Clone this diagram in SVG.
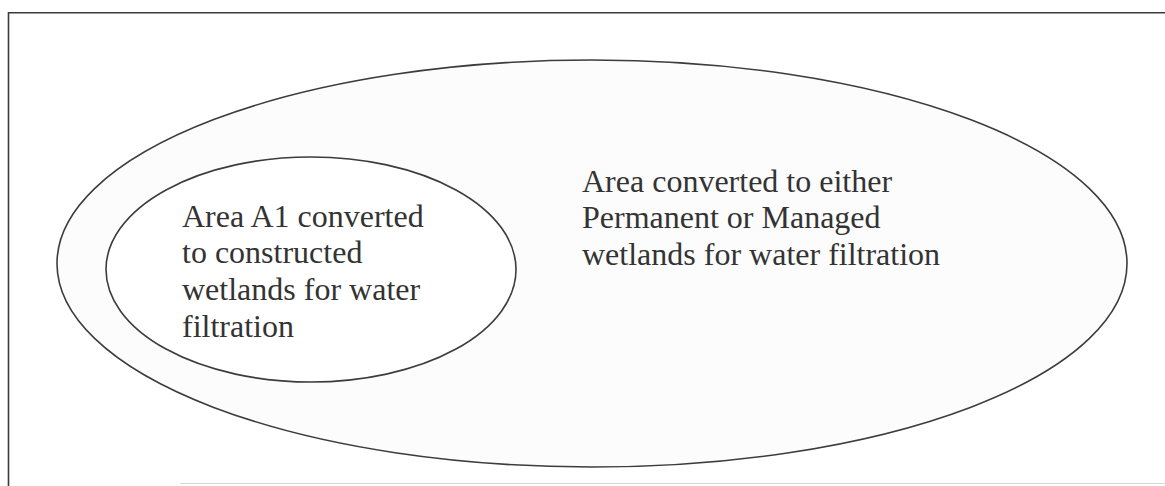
<svg xmlns="http://www.w3.org/2000/svg" width="1165" height="486" viewBox="0 0 1165 486">
  <style>
    .frame { stroke: #3a3a3a; stroke-width: 1.6; fill: none; }
    .frame-faint { stroke: #d8d8d8; stroke-width: 1.2; fill: none; }
    .area { stroke: #3c3c3c; stroke-width: 1.6; }
    .label { font-family: "Liberation Serif", "Times New Roman", serif; font-size: 32px; fill: #333333; }
  </style>
  <rect width="1165" height="486" fill="#ffffff"/>

  <!-- page frame -->
  <g id="frame">
    <path class="frame" d="M8.5 486 V12.8 H1165"/>
    <path class="frame-faint" d="M180 483.5 H1165"/>
  </g>

  <!-- outer area: permanent or managed wetlands -->
  <g id="outer-area">
    <ellipse class="area" cx="592" cy="263.5" rx="535" ry="203.5" fill="#fcfcfc"/>
    <text class="label" x="582" y="191.7">Area converted to either</text>
    <text class="label" x="582" y="228.4">Permanent or Managed</text>
    <text class="label" x="582" y="265.1">wetlands for water filtration</text>
  </g>

  <!-- inner area: constructed wetlands A1 -->
  <g id="inner-area">
    <ellipse class="area" cx="311" cy="269.5" rx="205" ry="112.5" fill="#ffffff"/>
    <text class="label" x="182" y="226.7">Area A1 converted</text>
    <text class="label" x="182" y="263.4">to constructed</text>
    <text class="label" x="182" y="300.1">wetlands for water</text>
    <text class="label" x="182" y="336.8">filtration</text>
  </g>

  <g id="connectors"/>
</svg>
